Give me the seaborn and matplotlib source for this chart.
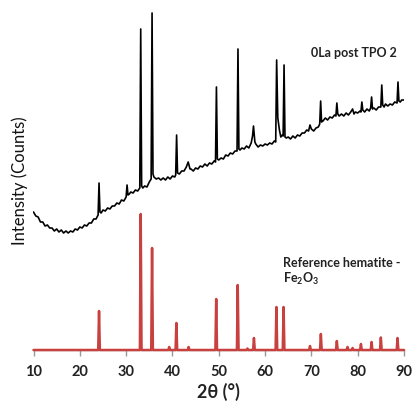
import matplotlib
matplotlib.use("Agg")
import matplotlib.pyplot as plt
import seaborn as sns
import pandas as pd

# ---- data (y in arbitrary counts) ----
sample_2theta = [10.0, 10.5, 11.0, 11.5, 12.0, 12.5, 13.0, 13.5, 14.0, 14.5, 15.0, 15.5, 16.0, 16.5, 17.0, 17.5,
                 18.0, 18.5, 19.0, 19.5, 20.0, 20.5, 21.0, 21.5, 22.0, 22.5, 23.0, 23.5, 23.95, 24.15, 24.35, 24.6,
                 25.0, 25.5, 26.0, 26.5, 27.0, 27.5, 28.0, 28.5, 29.0, 29.5, 30.0, 30.2, 30.4, 30.7, 31.0, 31.5,
                 32.0, 32.5, 32.95, 33.15, 33.35, 33.6, 34.0, 34.5, 35.0, 35.4, 35.6, 35.8, 36.0, 36.5, 37.0, 37.5,
                 38.0, 38.5, 39.0, 39.5, 40.0, 40.5, 40.7, 40.9, 41.1, 41.5, 42.0, 42.5, 43.0, 43.4, 43.8, 44.0,
                 44.5, 45.0, 45.5, 46.0, 46.5, 47.0, 47.5, 48.0, 48.5, 49.0, 49.3, 49.5, 49.7, 50.0, 50.5, 51.0,
                 51.5, 52.0, 52.5, 53.0, 53.5, 53.95, 54.15, 54.35, 54.6, 55.0, 55.5, 56.0, 56.5, 57.0, 57.3, 57.5,
                 57.8, 58.0, 58.5, 59.0, 59.5, 60.0, 60.5, 61.0, 61.5, 62.0, 62.3, 62.5, 62.75, 63.1, 63.4, 63.7,
                 63.9, 64.1, 64.3, 64.6, 65.0, 65.5, 66.0, 66.5, 67.0, 67.5, 68.0, 68.5, 69.0, 69.4, 69.7, 70.0,
                 70.5, 71.0, 71.5, 71.8, 72.0, 72.2, 72.5, 73.0, 73.5, 74.0, 74.5, 75.0, 75.3, 75.5, 75.7, 76.0,
                 76.5, 77.0, 77.5, 78.0, 78.5, 78.9, 79.2, 79.5, 80.0, 80.5, 80.7, 80.9, 81.1, 81.5, 82.0, 82.5,
                 82.8, 83.0, 83.2, 83.5, 84.0, 84.5, 85.0, 85.2, 85.4, 85.7, 86.0, 86.5, 87.0, 87.5, 88.0, 88.5,
                 88.7, 88.9, 89.2, 89.5, 90.0]
sample_counts = [138, 134, 133, 128, 128, 124, 125, 122, 122, 119, 121, 118, 120, 117, 119, 117,
                 119, 118, 121, 120, 123, 122, 125, 124, 127, 127, 131, 131, 135, 167, 138, 137,
                 140, 139, 142, 141, 144, 144, 147, 146, 150, 149, 153, 165, 155, 156, 158, 157,
                 160, 159, 162, 321, 164, 162, 164, 163, 168, 171, 337, 176, 173, 171, 172, 170,
                 172, 170, 173, 171, 174, 173, 175, 215, 177, 176, 179, 179, 183, 188, 181, 181,
                 179, 182, 181, 184, 183, 186, 184, 187, 186, 189, 188, 263, 191, 190, 192, 191,
                 195, 194, 197, 196, 199, 199, 301, 201, 200, 202, 201, 204, 202, 207, 214, 224,
                 208, 206, 203, 205, 204, 206, 205, 207, 206, 209, 208, 290, 232, 220, 213, 215,
                 214, 285, 213, 212, 213, 211, 214, 212, 215, 214, 217, 217, 220, 219, 225, 221,
                 219, 222, 223, 226, 249, 228, 229, 232, 230, 233, 232, 235, 234, 247, 236, 234,
                 236, 234, 237, 235, 238, 241, 236, 238, 237, 239, 238, 248, 240, 238, 241, 239,
                 242, 253, 241, 242, 240, 243, 243, 265, 245, 243, 246, 244, 246, 245, 248, 247,
                 268, 249, 248, 250, 250]

ref_2theta = [24.15, 33.15, 35.6, 39.3, 40.85, 43.5, 49.45, 54.1, 56.2, 57.6, 62.45, 64.0,
              69.7, 72.05, 75.5, 77.8, 78.9, 80.7, 83.0, 85.0, 88.6]
ref_intensity = [39, 136, 102, 3, 27, 3, 51, 65, 1.5, 12, 43, 43,
                 4, 16, 9, 3, 2, 6, 8, 12.5, 12]

x_ticks = [10, 20, 30, 40, 50, 60, 70, 80, 90]
sample_label = "0La post TPO 2"
ref_label_1 = "Reference hematite -"
ref_label_2 = r"$\mathbf{Fe_2O_3}$"

# ---- style ----
sns.set_style("white")
plt.rcParams["font.family"] = ["Lato", "DejaVu Sans"]
plt.rcParams["mathtext.fontset"] = "custom"
plt.rcParams["mathtext.rm"] = "Lato"
plt.rcParams["mathtext.bf"] = "Lato:bold"
plt.rcParams["mathtext.it"] = "Lato:italic"

fig = plt.figure(figsize=(4.14, 4.07), dpi=100)
ax = fig.add_axes([33.5 / 414, 57 / 407, 370.5 / 414, 350 / 407])

# reference stick pattern as a line with narrow peaks
rx, ry = [10.0], [0.0]
hw = 0.18
for p, h in zip(ref_2theta, ref_intensity):
    rx += [p - hw, p, p + hw]
    ry += [0.0, h, 0.0]
rx.append(90.0)
ry.append(0.0)
ref_df = pd.DataFrame({"2theta": rx, "I": ry})
sample_df = pd.DataFrame({"2theta": sample_2theta, "I": sample_counts})

sns.lineplot(data=ref_df, x="2theta", y="I", sort=False, estimator=None,
             color="#C8413F", linewidth=1.8, ax=ax, zorder=3, clip_on=False)
sns.lineplot(data=sample_df, x="2theta", y="I", sort=False, estimator=None,
             color="black", linewidth=1.2, ax=ax, zorder=4)

ax.set_xlim(10, 90)
ax.set_ylim(0, 350)
ax.set_xticks(x_ticks)
ax.set_xticklabels([str(t) for t in x_ticks], family="Lato", fontweight="bold", fontsize=10.5, color="#222222")
ax.set_yticks([])
for s in ["left", "top", "right"]:
    ax.spines[s].set_visible(False)
ax.spines["bottom"].set_color("#999999")
ax.spines["bottom"].set_linewidth(1.0)
ax.tick_params(axis="x", direction="out", length=4.5, width=1.0, color="#999999", pad=6, bottom=True)

ax.set_xlabel("2θ (°)", fontsize=13, fontweight="bold", color="#222222", labelpad=3)
ax.set_ylabel("Intensity (Counts)", fontsize=12, color="#111111")
ax.yaxis.set_label_coords(-0.016, 0.483)

ax.text(70.0, 293, sample_label, family="Lato", fontsize=9, fontweight="bold", color="#222222",
        va="baseline", ha="left")
ax.text(63.9, 83, ref_label_1, family="Lato", fontsize=9, fontweight="bold", color="#222222",
        va="baseline", ha="left")
ax.text(63.9, 67, ref_label_2, fontsize=9, color="#222222", va="baseline", ha="left")

fig.savefig("out.png", dpi=100)
